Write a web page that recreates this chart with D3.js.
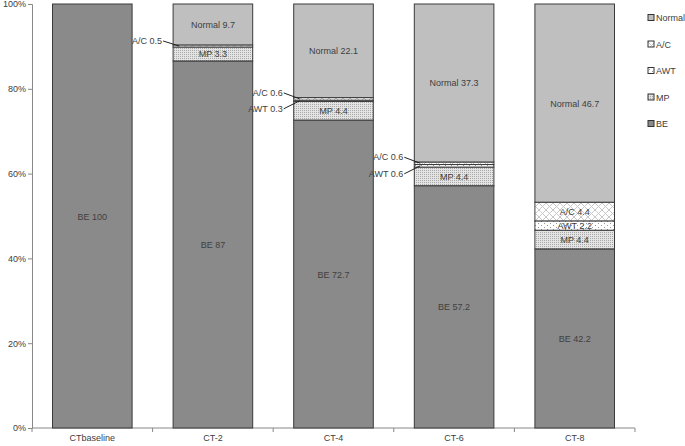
<!DOCTYPE html>
<html>
<head>
<meta charset="utf-8">
<script src="https://d3js.org/d3.v7.min.js"></script>
<style>
  body { margin: 0; background: #fff; }
  svg text { font-family: "Liberation Sans", Arial, sans-serif; fill: #404040; }
</style>
</head>
<body>
<svg id="chart" width="685" height="446"></svg>
<script>
// ---- data
var categories = ["CTbaseline", "CT-2", "CT-4", "CT-6", "CT-8"];
var seriesKeys = ["BE", "MP", "AWT", "A/C", "Normal"];
var beValues     = [100, 87, 72.7, 57.2, 42.2];
var mpValues     = [0, 3.3, 4.4, 4.4, 4.4];
var awtValues    = [0, 0, 0.3, 0.6, 2.2];
var acValues     = [0, 0.5, 0.6, 0.6, 4.4];
var normalValues = [0, 9.7, 22.1, 37.3, 46.7];
var yTicks = [0, 0.2, 0.4, 0.6, 0.8, 1];
var legendOrder = ["Normal", "A/C", "AWT", "MP", "BE"];

// build rows for d3.stack
var rows = categories.map(function(c, i) {
	return { cat: c, "BE": beValues[i], "MP": mpValues[i], "AWT": awtValues[i],
		"A/C": acValues[i], "Normal": normalValues[i] };
});

var svg = d3.select("#chart");
var defs = svg.append("defs");

// -- patterns
var mp = defs.append("pattern").attr("id", "pMP").attr("patternUnits", "userSpaceOnUse")
	.attr("width", 2).attr("height", 2);
mp.append("rect").attr("width", 2).attr("height", 2).attr("fill", "#e4e4e4");
mp.append("rect").attr("width", 1).attr("height", 1).attr("fill", "#a8a8a8");

var awt = defs.append("pattern").attr("id", "pAWT").attr("patternUnits", "userSpaceOnUse")
	.attr("width", 6).attr("height", 4);
awt.append("rect").attr("width", 6).attr("height", 4).attr("fill", "#fff");
awt.append("rect").attr("x", 1).attr("y", 1).attr("width", 1).attr("height", 1).attr("fill", "#999");
awt.append("rect").attr("x", 4).attr("y", 3).attr("width", 1).attr("height", 1).attr("fill", "#999");

var ac = defs.append("pattern").attr("id", "pAC").attr("patternUnits", "userSpaceOnUse")
	.attr("width", 7).attr("height", 7);
ac.append("rect").attr("width", 7).attr("height", 7).attr("fill", "#fff");
ac.append("path").attr("d", "M0,0L7,7M7,0L0,7").attr("stroke", "#c8c8c8").attr("stroke-width", 1);

var fills = { "BE": "#8a8a8a", "MP": "url(#pMP)", "AWT": "url(#pAWT)", "A/C": "url(#pAC)", "Normal": "#bfbfbf" };

// -- scales
var x = d3.scaleBand().domain(categories).range([32, 635]).paddingInner(0.34).paddingOuter(0.17);
var y = d3.scaleLinear().domain([0, 1]).range([428, 4]);

var stack = d3.stack().keys(seriesKeys).offset(d3.stackOffsetExpand);
var layers = stack(rows);

// -- axes
var yAxis = svg.append("g").attr("transform", "translate(32,0)")
	.call(d3.axisLeft(y).tickValues(yTicks).tickFormat(d3.format(".0%")).tickSize(4));
yAxis.select(".domain").attr("stroke", "#888");
yAxis.selectAll(".tick line").attr("stroke", "#888");
yAxis.selectAll(".tick text").attr("font-size", 9).attr("x", -6);

var xAxis = svg.append("g").attr("transform", "translate(0,428)");
xAxis.append("line").attr("x1", 32).attr("x2", 635).attr("stroke", "#888");
var step = x.step();
xAxis.selectAll(".xt").data(d3.range(categories.length + 1)).enter().append("line")
	.attr("x1", function(i) { return 32 + i * step; })
	.attr("x2", function(i) { return 32 + i * step; })
	.attr("y1", 0).attr("y2", 4).attr("stroke", "#888");
xAxis.selectAll(".xl").data(categories).enter().append("text")
	.attr("x", function(d) { return x(d) + x.bandwidth() / 2; })
	.attr("y", 13).attr("text-anchor", "middle").attr("font-size", 9)
	.text(function(d) { return d; });

// -- bars
var g = svg.append("g");
layers.forEach(function(layer) {
	g.selectAll(null).data(layer.filter(function(d) { return d[1] - d[0] > 0; }))
		.enter().append("rect")
		.attr("x", function(d) { return x(d.data.cat); })
		.attr("width", x.bandwidth())
		.attr("y", function(d) { return y(d[1]); })
		.attr("height", function(d) { return y(d[0]) - y(d[1]); })
		.attr("fill", fills[layer.key])
		.attr("stroke", "#3a3a3a").attr("stroke-width", 1);
});

// -- segment labels
layers.forEach(function(layer) {
	layer.forEach(function(d, i) {
		var v = d.data[layer.key];
		if (!v) return;
		var cx = x(d.data.cat) + x.bandwidth() / 2;
		var cy = (y(d[0]) + y(d[1])) / 2;
		var h = y(d[0]) - y(d[1]);
		var label = layer.key + " " + v;
		if (h >= 8) {
			g.append("text").attr("x", cx).attr("y", cy + 3.5).attr("text-anchor", "middle")
				.attr("font-size", 9).text(label);
		} else {
			// small slice: label outside on the left with a leader line
			var bx = x(d.data.cat);
			var ly = layer.key === "A/C" ? cy - 6 : cy + 8;
			if (d.data.cat === "CT-2") ly = cy - 5;
			g.append("text").attr("x", bx - 11).attr("y", ly + 3).attr("text-anchor", "end")
				.attr("font-size", 9).text(label);
			g.append("line").attr("x1", bx - 10).attr("y1", ly)
				.attr("x2", bx + 6).attr("y2", cy).attr("stroke", "#222").attr("stroke-width", 1);
		}
	});
});

// -- legend
var legend = svg.append("g").attr("transform", "translate(648,0)");
legendOrder.forEach(function(k, i) {
	var ly = 18 + i * 26.5;
	legend.append("rect").attr("x", 0).attr("y", ly - 3.5).attr("width", 6).attr("height", 6)
		.attr("fill", fills[k]).attr("stroke", "#333").attr("stroke-width", 1);
	legend.append("text").attr("x", 8).attr("y", ly + 3).attr("font-size", 9).text(k);
});
</script>
</body>
</html>
